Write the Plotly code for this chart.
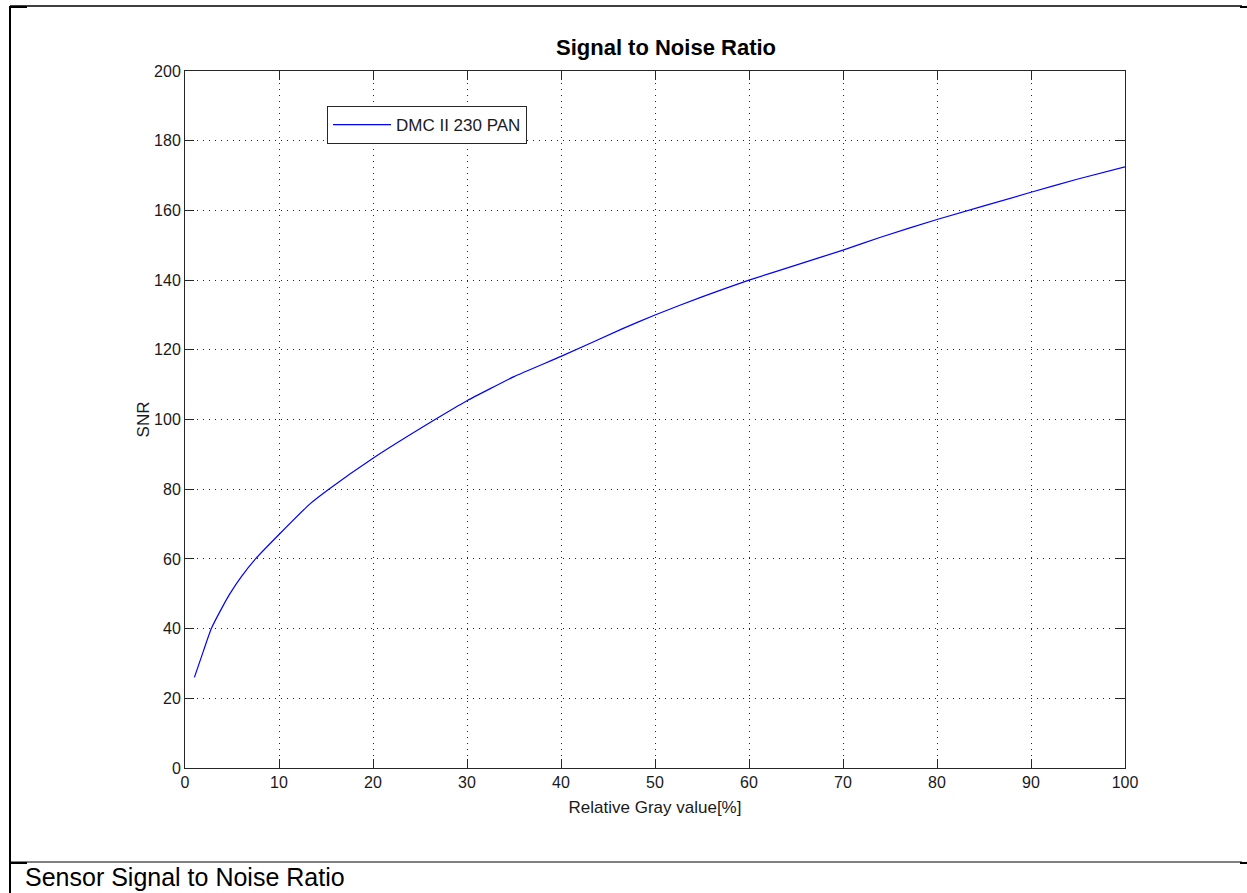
import plotly.graph_objects as go

# Data
gray_pct = [1, 2, 2.8, 4, 4.8, 6, 7.5, 10, 13.3, 15.3, 20, 26.6, 30, 35, 40, 46.5,
            50, 55, 60, 65, 70, 74, 80, 90, 95, 100]
snr = [26.0, 33.9, 40.0, 46.3, 50.1, 54.9, 60.0, 67.0, 75.8, 80.0, 88.9, 100.0, 105.4,
       112.3, 118.1, 126.0, 130.0, 135.2, 140.0, 144.3, 148.6, 152.3, 157.4,
       165.2, 169.0, 172.5]

series_name = "DMC II 230 PAN"
x_ticks = list(range(0, 101, 10))
y_ticks = list(range(0, 201, 20))

W, H = 1247, 893
L, R, T, B = 185, 1125, 71, 768
PW, PH = R - L, B - T


def px(x):
    return (x - L) / PW


def py(y):
    return (B - y) / PH


FONT = "Liberation Sans, Arial, Helvetica, sans-serif"
AX = "#262626"
TXT = "#1a1a1a"

fig = go.Figure()
fig.add_trace(go.Scatter(x=gray_pct, y=snr, mode="lines", name=series_name,
                         line=dict(color="#0000ff", width=1.2, shape="spline", smoothing=0.4)))

axis_common = dict(
    showline=True, linecolor=AX, linewidth=1, mirror="ticks",
    ticks="inside", ticklen=9, tickcolor=AX, tickwidth=1,
    showgrid=True, gridcolor="#222222", gridwidth=1, griddash="1px,5px",
    zeroline=False, tickfont=dict(family=FONT, size=16, color=TXT),
)

fig.update_xaxes(range=[0, 100], tickvals=x_ticks, **axis_common,
                 title=dict(text="Relative Gray value[%]", standoff=10,
                            font=dict(family=FONT, size=17, color=TXT)))
fig.update_yaxes(range=[0, 200], tickvals=y_ticks, **axis_common,
                 title=dict(text="SNR", standoff=0,
                            font=dict(family=FONT, size=17, color=TXT)))

fig.update_layout(
    width=W, height=H,
    margin=dict(l=L, r=W - R, t=T, b=H - B, autoexpand=False),
    paper_bgcolor="white", plot_bgcolor="white",
    title=dict(text="<b>Signal to Noise Ratio</b>", xref="container",
               x=666 / W, xanchor="center",
               y=1 - 47 / H, yanchor="middle",
               font=dict(family=FONT, size=22, color="black")),
    showlegend=True,
    legend=dict(x=px(327), y=py(106), xanchor="left", yanchor="top",
                bgcolor="white", bordercolor=AX, borderwidth=1,
                font=dict(family=FONT, size=17, color=TXT),
                itemwidth=58, entrywidth=200, tracegroupgap=0),
)

# Document frame lines around the figure
line_k = dict(type="line", xref="paper", yref="paper", layer="above")
fig.add_shape(x0=px(10), x1=px(1242), y0=py(6), y1=py(6),
              line=dict(color="black", width=1.5), **line_k)
fig.add_shape(x0=px(10), x1=px(10), y0=py(6), y1=py(893),
              line=dict(color="black", width=2), **line_k)
fig.add_shape(x0=px(10), x1=px(1242), y0=py(862), y1=py(862),
              line=dict(color="black", width=1), **line_k)
for yy in (7, 863):
    fig.add_shape(x0=px(10), x1=px(27), y0=py(yy), y1=py(yy),
                  line=dict(color="black", width=2), **line_k)
    fig.add_shape(x0=px(1240), x1=px(1247), y0=py(yy), y1=py(yy),
                  line=dict(color="black", width=2), **line_k)

fig.add_annotation(text="Sensor Signal to Noise Ratio", xref="paper", yref="paper",
                   x=px(23), y=py(877), xanchor="left", yanchor="middle",
                   showarrow=False, font=dict(family=FONT, size=25, color="black"))

fig.write_html("out.html")
